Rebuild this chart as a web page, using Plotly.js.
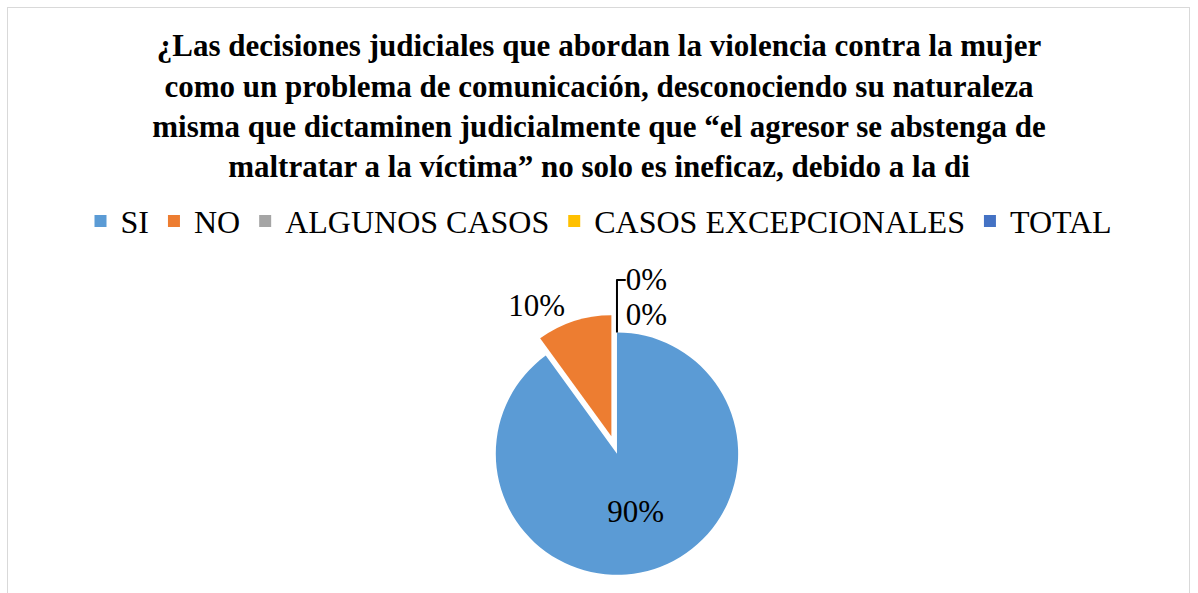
<!DOCTYPE html>
<html>
<head>
<meta charset="utf-8">
<script src="https://cdn.plot.ly/plotly-3.0.1.min.js"></script>
<style>
  html, body { margin: 0; padding: 0; background: #ffffff; overflow: hidden; }
  #frame { position: absolute; left: 7px; top: 7px; width: 1183px; height: 600px; border: 1px solid #d9d9d9; box-sizing: border-box; pointer-events: none; z-index: 5; }
  #chart { width: 1198px; height: 593px; }
</style>
</head>
<body>
<div id="frame"></div>
<div id="chart"></div>
<script>
const categories = ["SI", "NO", "ALGUNOS CASOS", "CASOS EXCEPCIONALES", "TOTAL"];
const values = [90, 10, 0, 0, 0];
const colors = ["#5b9bd5", "#ed7d31", "#a5a5a5", "#ffc000", "#4472c4"];
const titleText = "¿Las decisiones judiciales que abordan la violencia contra la mujer<br>como un problema de comunicación, desconociendo su naturaleza<br>misma que dictaminen judicialmente que “el agresor se abstenga de<br>maltratar a la víctima” no solo es ineficaz, debido a la di";

const serif = "Liberation Serif, Times New Roman, serif";

const trace = {
  type: "pie",
  labels: categories,
  values: values,
  sort: false,
  direction: "clockwise",
  rotation: 0,
  pull: [0, 0.15, 0, 0, 0],
  marker: { colors: colors, line: { color: "#ffffff", width: 0 } },
  textinfo: "percent",
  texttemplate: "%{percent:.0%}",
  textposition: ["inside", "outside", "outside", "outside", "none"],
  insidetextorientation: "horizontal",
  textfont: { family: serif, size: 31, color: "#000000" },
  outsidetextfont: { family: serif, size: 31, color: "#000000" },
  automargin: false,
  showlegend: true,
  domain: { x: [0.28, 0.75], y: [0.0, 0.47] }
};

const layout = {
  width: 1198,
  height: 593,
  margin: { l: 0, r: 0, t: 0, b: 0 },
  paper_bgcolor: "#ffffff",
  title: {
    text: titleText,
    font: { family: serif, size: 31, color: "#000000", weight: "bold" },
    x: 0.5, xanchor: "center",
    y: 0.905, yanchor: "top"
  },
  legend: {
    orientation: "h",
    x: 0.5, xanchor: "center",
    y: 0.627, yanchor: "middle",
    font: { family: serif, size: 32, color: "#000000" },
    traceorder: "normal",
    itemwidth: 30
  },
  showlegend: true
};

Plotly.newPlot("chart", [trace], layout, { displayModeBar: false, staticPlot: true });
</script>
</body>
</html>
